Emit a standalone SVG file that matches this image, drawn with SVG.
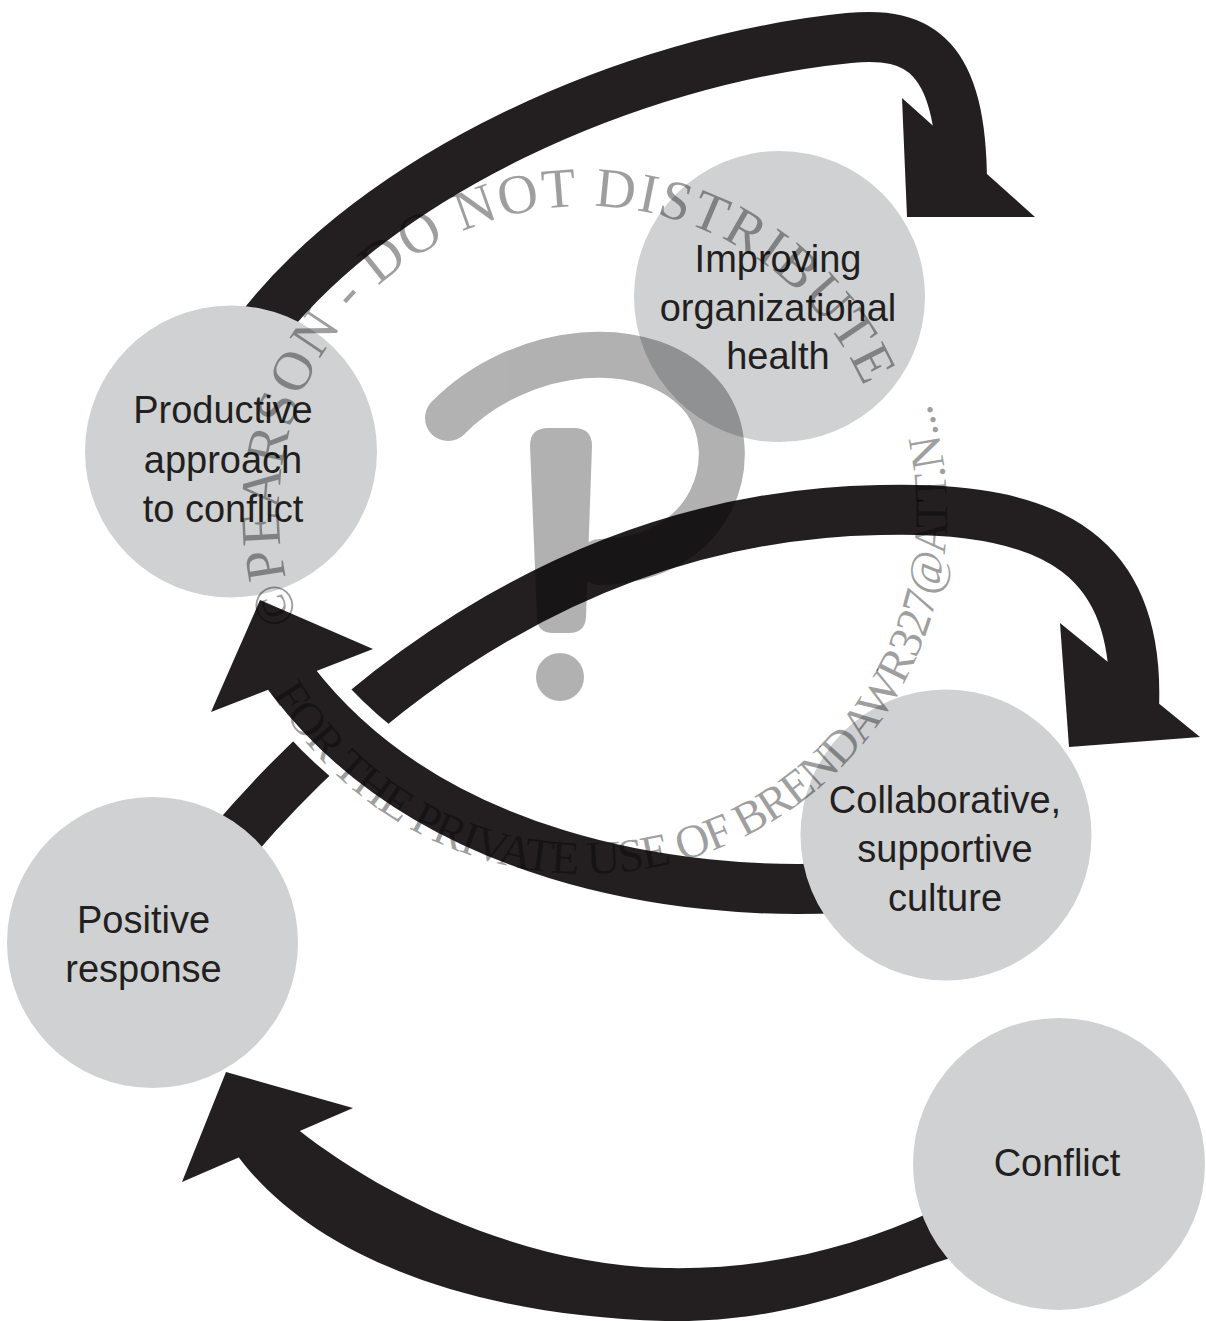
<svg xmlns="http://www.w3.org/2000/svg" width="1206" height="1321" viewBox="0 0 1206 1321">
<style>
  .band{fill:none;stroke:#231f20;stroke-width:50;stroke-linejoin:round}
  .gap{fill:none;stroke:#ffffff;stroke-width:78}
  .ink{fill:#231f20}
  .node circle{fill:#cfd1d3}
  .node text{font-family:"Liberation Sans",Arial,sans-serif;font-size:38px;fill:#231f20;text-anchor:middle}
  .wm-text{font-family:"Liberation Serif","Times New Roman",serif;fill:#000;fill-opacity:0.38;text-anchor:middle}
</style>
<defs>
  <path id="ring-top" d="M 397.7 754 A 306 306 0 1 1 888.2 553.3"/>
  <path id="ring-bottom" d="M 225.2 472 A 362 362 0 1 0 799.6 220.4"/>
</defs>
<rect width="1206" height="1321" fill="#ffffff"/>

<g id="connectors">
  <!-- productive approach -> improving organizational health -->
  <path class="band" d="M 250 341 L 255 335 C 375 175 629 60 849 38 C 919 31 962 55 962 185"/>
  <polygon class="ink" points="902,98 907,217 1035,217"/>
  <!-- positive response -> collaborative, supportive culture -->
  <path class="band" d="M 230 845 C 370 680 590 515 880 510 C 1060 505 1140 560 1134 708"/>
  <polygon class="ink" points="1060,623 1069,747 1200,737"/>
  <!-- collaborative, supportive culture -> productive approach (passes over the other arc) -->
  <path class="gap" d="M 840 888 C 680 896 430 860 292 680 L 283 668"/>
  <path class="band" d="M 840 888 C 680 896 430 860 292 680 L 283 668"/>
  <polygon class="ink" points="260,600 373,649 211,712"/>
  <!-- conflict -> positive response -->
  <path class="ink" d="M 235 1152 C 300 1245 450 1315 665 1321 C 800 1324 890 1275 960 1255 L 935 1210 C 850 1250 760 1270 665 1268 C 520 1265 380 1195 296 1128 Z"/>
  <polygon class="ink" points="226,1072 353,1108 182,1182"/>
</g>

<g id="node-improving" class="node">
  <circle cx="779.5" cy="296.5" r="145.5"/>
  <text x="778" y="272">Improving</text>
  <text x="778" y="321">organizational</text>
  <text x="778" y="369">health</text>
</g>
<g id="node-productive" class="node">
  <circle cx="231" cy="451.5" r="146"/>
  <text x="223" y="423">Productive</text>
  <text x="223" y="473">approach</text>
  <text x="223" y="522">to conflict</text>
</g>
<g id="node-collaborative" class="node">
  <circle cx="946" cy="835" r="145.5"/>
  <text x="945" y="813">Collaborative,</text>
  <text x="945" y="862">supportive</text>
  <text x="945" y="911">culture</text>
</g>
<g id="node-positive" class="node">
  <circle cx="152.5" cy="942.5" r="145.5"/>
  <text x="143.5" y="933">Positive</text>
  <text x="143.5" y="982">response</text>
</g>
<g id="node-conflict" class="node">
  <circle cx="1059" cy="1164" r="146"/>
  <text x="1057" y="1176">Conflict</text>
</g>

<g id="watermark">
  <g opacity="0.3">
    <path d="M 448 418 C 520 345 650 330 705 400 C 745 455 715 560 600 562" fill="none" stroke="#000" stroke-width="46" stroke-linecap="round"/>
    <path d="M 548 428 L 574 428 Q 592 428 592 446 L 586 617 Q 585 633 569 633 L 553 633 Q 537 633 537 617 L 530 446 Q 530 428 548 428 Z" fill="#000"/>
    <circle cx="560" cy="677" r="24" fill="#000"/>
  </g>
  <text class="wm-text" font-size="56" letter-spacing="1.8"><textPath href="#ring-top" startOffset="50%">©PEARSON - DO NOT DISTRIBUTE</textPath></text>
  <text class="wm-text" font-size="47" letter-spacing="-1.5"><textPath href="#ring-bottom" startOffset="50%">FOR THE PRIVATE USE OF BRENDAWR327@ATT.N...</textPath></text>
</g>
</svg>
